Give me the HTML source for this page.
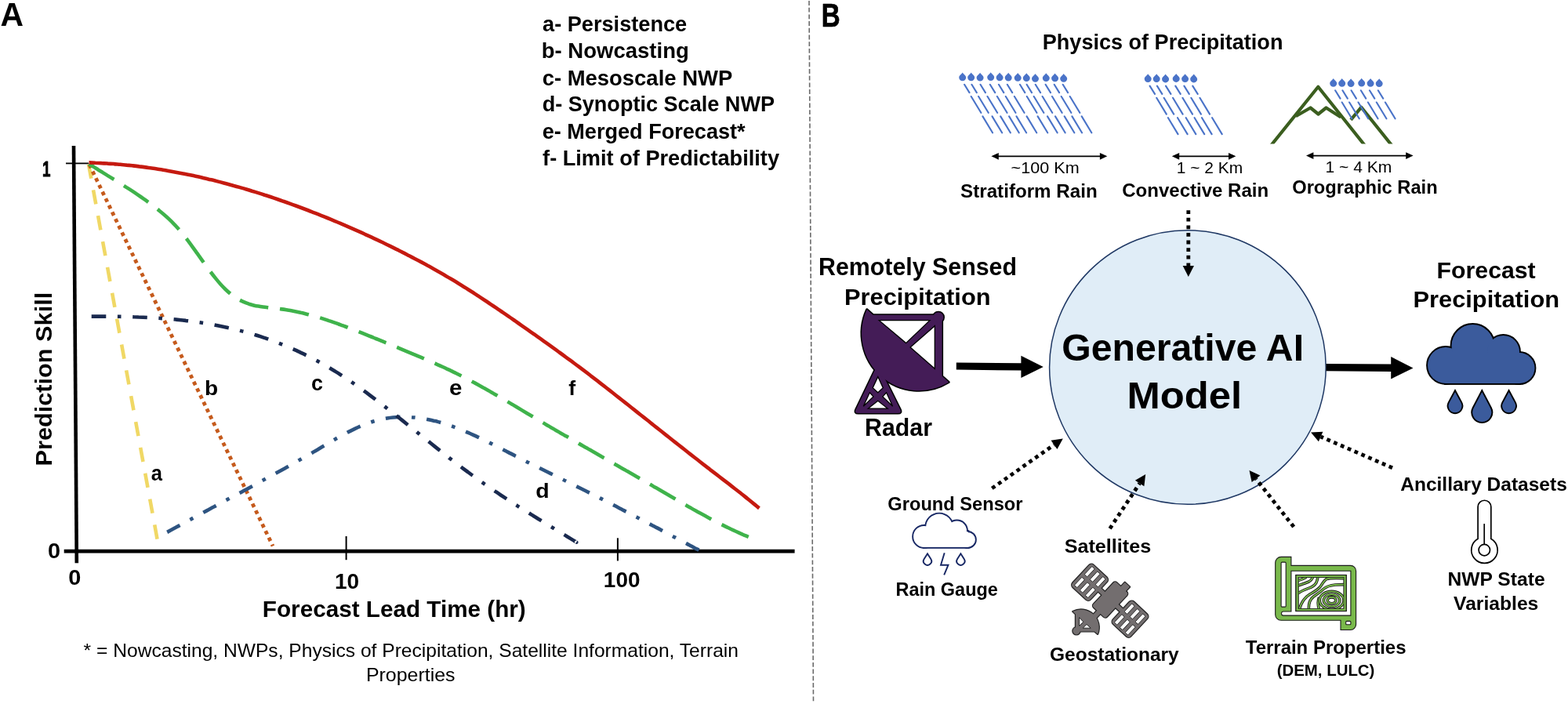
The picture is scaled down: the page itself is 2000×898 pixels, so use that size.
<!DOCTYPE html>
<html><head><meta charset="utf-8"><style>
html,body{margin:0;padding:0;background:#fff;overflow:hidden;}
svg{display:block;}
text{font-family:"Liberation Sans",Arial,sans-serif;}
</style></head><body>
<svg width="2000" height="898" viewBox="0 0 2000 898">
<rect width="2000" height="898" fill="#fff"/>
<ellipse cx="1514.9" cy="468.5" rx="176.3" ry="174.8" fill="#e0edf7" stroke="#1f3864" stroke-width="1.5"/>
<line x1="1032" y1="1" x2="1037.5" y2="896" stroke="#6a6a6a" stroke-width="1.6" stroke-dasharray="5.9 2.8"/>
<line x1="94" y1="186" x2="97.8" y2="718.2" stroke="#000" stroke-width="4.6"/>
<line x1="81.7" y1="703.2" x2="1013.6" y2="703.2" stroke="#000" stroke-width="4.8"/>
<line x1="84" y1="208.4" x2="113" y2="208.4" stroke="#000" stroke-width="1.8"/>
<line x1="441.6" y1="684" x2="441.6" y2="714.2" stroke="#000" stroke-width="2"/>
<line x1="787.9" y1="686.3" x2="787.9" y2="715.4" stroke="#000" stroke-width="2"/>
<line x1="113" y1="209.5" x2="200.6" y2="688" stroke="#f0d865" stroke-width="4.6" stroke-dasharray="18.4 15"/>
<line x1="114" y1="210" x2="348" y2="696.5" stroke="#c55a1c" stroke-width="4.8" stroke-dasharray="4.8 4.8"/>
<path d="M213.2,678.9 C214.2,678.4 217.2,676.7 219.2,675.6 C221.2,674.5 223.2,673.4 225.2,672.3 C227.2,671.2 229.2,670.1 231.2,669.0 C233.2,667.9 235.2,666.8 237.2,665.7 C239.2,664.6 241.2,663.5 243.2,662.5 C245.2,661.4 247.2,660.3 249.2,659.2 C251.2,658.1 253.2,657.0 255.2,656.0 C257.2,654.9 259.2,653.8 261.2,652.7 C263.2,651.6 265.2,650.6 267.2,649.5 C269.2,648.4 271.2,647.3 273.2,646.3 C275.2,645.2 277.2,644.1 279.2,643.0 C281.2,642.0 283.2,640.9 285.2,639.8 C287.2,638.7 289.2,637.7 291.2,636.6 C293.2,635.5 295.2,634.4 297.2,633.4 C299.2,632.3 301.2,631.2 303.2,630.1 C305.2,629.1 307.2,628.0 309.2,626.9 C311.2,625.8 313.2,624.8 315.2,623.7 C317.2,622.6 319.2,621.5 321.2,620.4 C323.2,619.3 325.2,618.3 327.2,617.2 C329.2,616.1 331.2,615.0 333.2,613.9 C335.2,612.8 337.2,611.7 339.2,610.6 C341.2,609.5 343.2,608.4 345.2,607.3 C347.2,606.2 349.2,605.1 351.2,604.0 C353.2,602.9 355.2,601.8 357.2,600.7 C359.2,599.6 361.2,598.5 363.2,597.4 C365.2,596.3 367.2,595.1 369.2,594.0 C371.2,592.9 373.2,591.8 375.2,590.6 C377.2,589.5 379.2,588.4 381.2,587.2 C383.2,586.1 385.2,584.9 387.2,583.8 C389.2,582.7 391.2,581.5 393.2,580.3 C395.2,579.2 397.2,578.0 399.2,576.9 C401.2,575.7 403.2,574.5 405.2,573.4 C407.2,572.2 409.2,571.0 411.2,569.8 C413.2,568.6 415.2,567.5 417.2,566.3 C419.2,565.1 421.2,563.9 423.2,562.8 C425.2,561.6 427.2,560.5 429.2,559.3 C431.2,558.2 433.2,557.1 435.2,556.0 C437.2,554.8 439.2,553.8 441.2,552.7 C443.2,551.6 445.2,550.6 447.2,549.6 C449.2,548.6 451.2,547.6 453.2,546.6 C455.2,545.7 457.2,544.8 459.2,543.9 C461.2,543.0 463.2,542.2 465.2,541.4 C467.2,540.6 469.2,539.9 471.2,539.2 C473.2,538.5 475.2,537.8 477.2,537.2 C479.2,536.6 481.2,536.1 483.2,535.6 C485.2,535.1 487.2,534.7 489.2,534.3 C491.2,533.9 493.2,533.5 495.2,533.2 C497.2,532.9 499.2,532.7 501.2,532.5 C503.2,532.3 505.2,532.1 507.2,532.0 C509.2,531.9 511.2,531.9 513.2,531.8 C515.2,531.8 517.2,531.8 519.2,531.9 C521.2,531.9 523.2,532.0 525.2,532.2 C527.2,532.3 529.2,532.5 531.2,532.7 C533.2,533.0 535.2,533.2 537.2,533.5 C539.2,533.8 541.2,534.1 543.2,534.5 C545.2,534.9 547.2,535.3 549.2,535.7 C551.2,536.2 553.2,536.6 555.2,537.1 C557.2,537.6 559.2,538.2 561.2,538.7 C563.2,539.3 565.2,539.9 567.2,540.5 C569.2,541.2 571.2,541.8 573.2,542.5 C575.2,543.2 577.2,543.9 579.2,544.6 C581.2,545.4 583.2,546.1 585.2,546.9 C587.2,547.7 589.2,548.5 591.2,549.4 C593.2,550.2 595.2,551.0 597.2,551.9 C599.2,552.8 601.2,553.7 603.2,554.6 C605.2,555.5 607.2,556.4 609.2,557.4 C611.2,558.3 613.2,559.2 615.2,560.2 C617.2,561.2 619.2,562.1 621.2,563.1 C623.2,564.1 625.2,565.1 627.2,566.1 C629.2,567.1 631.2,568.1 633.2,569.2 C635.2,570.2 637.2,571.2 639.2,572.2 C641.2,573.2 643.2,574.3 645.2,575.3 C647.2,576.3 649.2,577.4 651.2,578.4 C653.2,579.4 655.2,580.4 657.2,581.5 C659.2,582.5 661.2,583.5 663.2,584.5 C665.2,585.5 667.2,586.5 669.2,587.5 C671.2,588.6 673.2,589.6 675.2,590.6 C677.2,591.6 679.2,592.6 681.2,593.6 C683.2,594.6 685.2,595.5 687.2,596.5 C689.2,597.5 691.2,598.5 693.2,599.5 C695.2,600.5 697.2,601.5 699.2,602.5 C701.2,603.5 703.2,604.5 705.2,605.4 C707.2,606.4 709.2,607.4 711.2,608.4 C713.2,609.4 715.2,610.4 717.2,611.4 C719.2,612.3 721.2,613.3 723.2,614.3 C725.2,615.3 727.2,616.3 729.2,617.3 C731.2,618.3 733.2,619.3 735.2,620.3 C737.2,621.3 739.2,622.3 741.2,623.3 C743.2,624.3 745.2,625.3 747.2,626.3 C749.2,627.3 751.2,628.3 753.2,629.3 C755.2,630.3 757.2,631.3 759.2,632.4 C761.2,633.4 763.2,634.4 765.2,635.4 C767.2,636.4 769.2,637.4 771.2,638.5 C773.2,639.5 775.2,640.5 777.2,641.5 C779.2,642.6 781.2,643.6 783.2,644.6 C785.2,645.7 787.2,646.7 789.2,647.7 C791.2,648.8 793.2,649.8 795.2,650.9 C797.2,651.9 799.2,652.9 801.2,654.0 C803.2,655.0 805.2,656.1 807.2,657.1 C809.2,658.2 811.2,659.2 813.2,660.2 C815.2,661.3 817.2,662.4 819.2,663.4 C821.2,664.4 823.2,665.5 825.2,666.5 C827.2,667.6 829.2,668.7 831.2,669.7 C833.2,670.8 835.2,671.8 837.2,672.9 C839.2,673.9 841.2,675.0 843.2,676.1 C845.2,677.1 847.2,678.2 849.2,679.2 C851.2,680.3 853.2,681.4 855.2,682.4 C857.2,683.5 859.2,684.6 861.2,685.6 C863.2,686.7 865.2,687.7 867.2,688.8 C869.2,689.9 871.2,690.9 873.2,692.0 C875.2,693.1 877.2,694.1 879.2,695.2 C881.2,696.3 883.2,697.3 885.2,698.4 C887.2,699.5 889.9,700.9 891.2,701.6 C892.5,702.3 892.5,702.3 892.8,702.5" fill="none" stroke="#2e5481" stroke-width="4.6" stroke-dasharray="18.6 14.6 4.6 14.7"/>
<path d="M116.7,403.6 C117.7,403.6 120.7,403.6 122.7,403.6 C124.7,403.6 126.7,403.6 128.7,403.6 C130.7,403.6 132.7,403.6 134.7,403.6 C136.7,403.6 138.7,403.7 140.7,403.7 C142.7,403.7 144.7,403.7 146.7,403.7 C148.7,403.8 150.7,403.8 152.7,403.8 C154.7,403.9 156.7,403.9 158.7,403.9 C160.7,404.0 162.7,404.0 164.7,404.1 C166.7,404.1 168.7,404.2 170.7,404.3 C172.7,404.3 174.7,404.4 176.7,404.5 C178.7,404.5 180.7,404.6 182.7,404.7 C184.7,404.8 186.7,404.9 188.7,405.0 C190.7,405.1 192.7,405.2 194.7,405.3 C196.7,405.4 198.7,405.6 200.7,405.7 C202.7,405.8 204.7,405.9 206.7,406.1 C208.7,406.2 210.7,406.4 212.7,406.6 C214.7,406.7 216.7,406.9 218.7,407.1 C220.7,407.2 222.7,407.4 224.7,407.6 C226.7,407.8 228.7,408.0 230.7,408.2 C232.7,408.5 234.7,408.7 236.7,408.9 C238.7,409.2 240.7,409.4 242.7,409.7 C244.7,409.9 246.7,410.2 248.7,410.5 C250.7,410.7 252.7,411.0 254.7,411.3 C256.7,411.6 258.7,411.9 260.7,412.2 C262.7,412.6 264.7,412.9 266.7,413.2 C268.7,413.6 270.7,413.9 272.7,414.3 C274.7,414.7 276.7,415.1 278.7,415.5 C280.7,415.9 282.7,416.3 284.7,416.7 C286.7,417.1 288.7,417.5 290.7,418.0 C292.7,418.4 294.7,418.9 296.7,419.4 C298.7,419.8 300.7,420.3 302.7,420.8 C304.7,421.3 306.7,421.8 308.7,422.4 C310.7,422.9 312.7,423.4 314.7,424.0 C316.7,424.5 318.7,425.1 320.7,425.7 C322.7,426.3 324.7,426.9 326.7,427.5 C328.7,428.2 330.7,428.8 332.7,429.4 C334.7,430.1 336.7,430.8 338.7,431.4 C340.7,432.1 342.7,432.8 344.7,433.6 C346.7,434.3 348.7,435.0 350.7,435.8 C352.7,436.5 354.7,437.3 356.7,438.1 C358.7,438.9 360.7,439.7 362.7,440.5 C364.7,441.3 366.7,442.2 368.7,443.0 C370.7,443.9 372.7,444.7 374.7,445.6 C376.7,446.5 378.7,447.4 380.7,448.4 C382.7,449.3 384.7,450.3 386.7,451.2 C388.7,452.2 390.7,453.2 392.7,454.2 C394.7,455.2 396.7,456.2 398.7,457.2 C400.7,458.3 402.7,459.4 404.7,460.4 C406.7,461.5 408.7,462.6 410.7,463.8 C412.7,464.9 414.7,466.0 416.7,467.2 C418.7,468.3 420.7,469.5 422.7,470.7 C424.7,471.9 426.7,473.1 428.7,474.4 C430.7,475.6 432.7,476.9 434.7,478.2 C436.7,479.5 438.7,480.8 440.7,482.1 C442.7,483.4 444.7,484.8 446.7,486.1 C448.7,487.5 450.7,488.9 452.7,490.3 C454.7,491.7 456.7,493.1 458.7,494.5 C460.7,496.0 462.7,497.4 464.7,498.9 C466.7,500.3 468.7,501.8 470.7,503.3 C472.7,504.8 474.7,506.3 476.7,507.8 C478.7,509.3 480.7,510.8 482.7,512.4 C484.7,513.9 486.7,515.4 488.7,517.0 C490.7,518.5 492.7,520.1 494.7,521.7 C496.7,523.2 498.7,524.8 500.7,526.4 C502.7,528.0 504.7,529.5 506.7,531.1 C508.7,532.7 510.7,534.3 512.7,535.9 C514.7,537.5 516.7,539.1 518.7,540.7 C520.7,542.3 522.7,543.9 524.7,545.5 C526.7,547.1 528.7,548.7 530.7,550.3 C532.7,551.9 534.7,553.6 536.7,555.2 C538.7,556.8 540.7,558.4 542.7,560.0 C544.7,561.6 546.7,563.2 548.7,564.8 C550.7,566.4 552.7,568.0 554.7,569.6 C556.7,571.2 558.7,572.8 560.7,574.3 C562.7,575.9 564.7,577.5 566.7,579.1 C568.7,580.6 570.7,582.2 572.7,583.8 C574.7,585.3 576.7,586.9 578.7,588.4 C580.7,590.0 582.7,591.5 584.7,593.0 C586.7,594.5 588.7,596.1 590.7,597.6 C592.7,599.1 594.7,600.6 596.7,602.0 C598.7,603.5 600.7,605.0 602.7,606.5 C604.7,607.9 606.7,609.4 608.7,610.8 C610.7,612.2 612.7,613.7 614.7,615.1 C616.7,616.5 618.7,617.9 620.7,619.2 C622.7,620.6 624.7,622.0 626.7,623.4 C628.7,624.7 630.7,626.1 632.7,627.4 C634.7,628.8 636.7,630.1 638.7,631.5 C640.7,632.8 642.7,634.1 644.7,635.4 C646.7,636.7 648.7,638.0 650.7,639.3 C652.7,640.6 654.7,641.9 656.7,643.2 C658.7,644.5 660.7,645.7 662.7,647.0 C664.7,648.3 666.7,649.5 668.7,650.8 C670.7,652.0 672.7,653.3 674.7,654.5 C676.7,655.8 678.7,657.0 680.7,658.3 C682.7,659.5 684.7,660.7 686.7,662.0 C688.7,663.2 690.7,664.4 692.7,665.7 C694.7,666.9 696.7,668.1 698.7,669.3 C700.7,670.6 702.7,671.8 704.7,673.0 C706.7,674.2 708.7,675.4 710.7,676.7 C712.7,677.9 714.7,679.1 716.7,680.3 C718.7,681.5 720.7,682.8 722.7,684.0 C724.7,685.2 726.7,686.4 728.7,687.6 C730.7,688.9 733.7,690.7 734.7,691.3 C735.8,692.0 735.0,691.5 735.0,691.5" fill="none" stroke="#1a2a4f" stroke-width="4.6" stroke-dasharray="18.6 14.6 4.6 14.7"/>
<path d="M113.5,209.0 C114.5,209.7 117.5,211.6 119.5,212.9 C121.5,214.2 123.5,215.4 125.5,216.7 C127.5,217.9 129.5,219.2 131.5,220.4 C133.5,221.7 135.5,222.9 137.5,224.1 C139.5,225.4 141.5,226.6 143.5,227.8 C145.5,229.0 147.5,230.3 149.5,231.5 C151.5,232.8 153.5,234.0 155.5,235.3 C157.5,236.5 159.5,237.8 161.5,239.1 C163.5,240.3 165.5,241.6 167.5,242.9 C169.5,244.2 171.5,245.5 173.5,246.9 C175.5,248.2 177.5,249.6 179.5,251.0 C181.5,252.4 183.5,253.8 185.5,255.2 C187.5,256.6 189.5,258.1 191.5,259.6 C193.5,261.1 195.5,262.6 197.5,264.2 C199.5,265.7 201.5,267.3 203.5,269.0 C205.5,270.6 207.5,272.3 209.5,274.0 C211.5,275.7 213.5,277.5 215.5,279.4 C217.5,281.3 219.5,283.2 221.5,285.3 C223.5,287.3 225.5,289.5 227.5,291.7 C229.5,294.0 231.5,296.4 233.5,298.9 C235.5,301.4 237.5,304.0 239.5,306.6 C241.5,309.3 243.5,312.0 245.5,314.8 C247.5,317.5 249.5,320.4 251.5,323.2 C253.5,326.0 255.5,328.8 257.5,331.6 C259.5,334.4 261.5,337.3 263.5,340.0 C265.5,342.7 267.5,345.4 269.5,348.0 C271.5,350.7 273.5,353.2 275.5,355.6 C277.5,358.1 279.5,360.5 281.5,362.7 C283.5,364.9 285.5,367.0 287.5,369.0 C289.5,370.9 291.5,372.8 293.5,374.4 C295.5,376.1 297.5,377.6 299.5,378.9 C301.5,380.3 303.5,381.5 305.5,382.6 C307.5,383.6 309.5,384.6 311.5,385.4 C313.5,386.3 315.5,387.0 317.5,387.7 C319.5,388.3 321.5,388.9 323.5,389.4 C325.5,389.9 327.5,390.3 329.5,390.6 C331.5,391.0 333.5,391.3 335.5,391.6 C337.5,391.9 339.5,392.1 341.5,392.3 C343.5,392.6 345.5,392.8 347.5,393.0 C349.5,393.2 351.5,393.4 353.5,393.6 C355.5,393.8 357.5,394.1 359.5,394.4 C361.5,394.6 363.5,394.9 365.5,395.2 C367.5,395.6 369.5,395.9 371.5,396.3 C373.5,396.7 375.5,397.1 377.5,397.5 C379.5,397.9 381.5,398.3 383.5,398.8 C385.5,399.2 387.5,399.7 389.5,400.2 C391.5,400.7 393.5,401.2 395.5,401.8 C397.5,402.3 399.5,402.9 401.5,403.4 C403.5,404.0 405.5,404.6 407.5,405.2 C409.5,405.8 411.5,406.5 413.5,407.1 C415.5,407.7 417.5,408.4 419.5,409.1 C421.5,409.7 423.5,410.4 425.5,411.1 C427.5,411.8 429.5,412.5 431.5,413.2 C433.5,413.9 435.5,414.7 437.5,415.4 C439.5,416.1 441.5,416.9 443.5,417.6 C445.5,418.4 447.5,419.2 449.5,419.9 C451.5,420.7 453.5,421.5 455.5,422.3 C457.5,423.1 459.5,423.9 461.5,424.7 C463.5,425.5 465.5,426.3 467.5,427.1 C469.5,427.9 471.5,428.7 473.5,429.5 C475.5,430.3 477.5,431.2 479.5,432.0 C481.5,432.8 483.5,433.6 485.5,434.4 C487.5,435.3 489.5,436.1 491.5,436.9 C493.5,437.7 495.5,438.6 497.5,439.4 C499.5,440.2 501.5,441.0 503.5,441.8 C505.5,442.7 507.5,443.5 509.5,444.3 C511.5,445.1 513.5,446.0 515.5,446.8 C517.5,447.6 519.5,448.4 521.5,449.3 C523.5,450.1 525.5,450.9 527.5,451.8 C529.5,452.6 531.5,453.5 533.5,454.3 C535.5,455.1 537.5,456.0 539.5,456.9 C541.5,457.7 543.5,458.6 545.5,459.4 C547.5,460.3 549.5,461.2 551.5,462.1 C553.5,463.0 555.5,463.9 557.5,464.8 C559.5,465.6 561.5,466.6 563.5,467.5 C565.5,468.4 567.5,469.3 569.5,470.3 C571.5,471.2 573.5,472.2 575.5,473.1 C577.5,474.1 579.5,475.0 581.5,476.0 C583.5,477.0 585.5,478.0 587.5,479.0 C589.5,480.0 591.5,481.1 593.5,482.1 C595.5,483.1 597.5,484.2 599.5,485.2 C601.5,486.3 603.5,487.4 605.5,488.4 C607.5,489.5 609.5,490.6 611.5,491.7 C613.5,492.8 615.5,493.9 617.5,495.1 C619.5,496.2 621.5,497.3 623.5,498.4 C625.5,499.6 627.5,500.7 629.5,501.9 C631.5,503.0 633.5,504.2 635.5,505.4 C637.5,506.5 639.5,507.7 641.5,508.9 C643.5,510.0 645.5,511.2 647.5,512.4 C649.5,513.6 651.5,514.8 653.5,515.9 C655.5,517.1 657.5,518.3 659.5,519.5 C661.5,520.7 663.5,521.9 665.5,523.1 C667.5,524.3 669.5,525.5 671.5,526.7 C673.5,527.9 675.5,529.0 677.5,530.2 C679.5,531.4 681.5,532.6 683.5,533.8 C685.5,535.0 687.5,536.2 689.5,537.3 C691.5,538.5 693.5,539.7 695.5,540.9 C697.5,542.0 699.5,543.2 701.5,544.4 C703.5,545.5 705.5,546.7 707.5,547.9 C709.5,549.0 711.5,550.2 713.5,551.4 C715.5,552.5 717.5,553.7 719.5,554.9 C721.5,556.0 723.5,557.2 725.5,558.3 C727.5,559.5 729.5,560.6 731.5,561.8 C733.5,562.9 735.5,564.1 737.5,565.2 C739.5,566.4 741.5,567.6 743.5,568.7 C745.5,569.9 747.5,571.0 749.5,572.1 C751.5,573.3 753.5,574.4 755.5,575.6 C757.5,576.7 759.5,577.9 761.5,579.0 C763.5,580.2 765.5,581.3 767.5,582.5 C769.5,583.6 771.5,584.7 773.5,585.9 C775.5,587.0 777.5,588.2 779.5,589.3 C781.5,590.5 783.5,591.6 785.5,592.8 C787.5,593.9 789.5,595.0 791.5,596.2 C793.5,597.3 795.5,598.5 797.5,599.6 C799.5,600.8 801.5,601.9 803.5,603.1 C805.5,604.2 807.5,605.4 809.5,606.5 C811.5,607.7 813.5,608.8 815.5,610.0 C817.5,611.1 819.5,612.3 821.5,613.4 C823.5,614.6 825.5,615.7 827.5,616.9 C829.5,618.0 831.5,619.2 833.5,620.4 C835.5,621.5 837.5,622.7 839.5,623.8 C841.5,625.0 843.5,626.2 845.5,627.3 C847.5,628.5 849.5,629.7 851.5,630.8 C853.5,632.0 855.5,633.2 857.5,634.3 C859.5,635.5 861.5,636.6 863.5,637.8 C865.5,639.0 867.5,640.1 869.5,641.3 C871.5,642.4 873.5,643.6 875.5,644.7 C877.5,645.9 879.5,647.0 881.5,648.1 C883.5,649.3 885.5,650.4 887.5,651.5 C889.5,652.6 891.5,653.7 893.5,654.8 C895.5,655.9 897.5,657.0 899.5,658.1 C901.5,659.2 903.5,660.3 905.5,661.4 C907.5,662.4 909.5,663.5 911.5,664.5 C913.5,665.6 915.5,666.6 917.5,667.6 C919.5,668.6 921.5,669.6 923.5,670.6 C925.5,671.6 927.5,672.6 929.5,673.5 C931.5,674.5 933.5,675.5 935.5,676.4 C937.5,677.3 939.5,678.2 941.5,679.1 C943.5,680.0 945.5,680.9 947.5,681.8 C949.5,682.6 951.8,683.6 953.5,684.3 C955.2,685.0 956.8,685.7 957.5,685.9" fill="none" stroke="#3fb34b" stroke-width="4.6" stroke-dasharray="37.6 14.9"/>
<path d="M113.5,207.4 C114.8,207.4 118.8,207.5 121.5,207.7 C124.2,207.8 126.8,207.9 129.5,208.1 C132.2,208.2 134.8,208.4 137.5,208.6 C140.2,208.7 142.8,208.9 145.5,209.1 C148.2,209.3 150.8,209.6 153.5,209.8 C156.2,210.1 158.8,210.3 161.5,210.6 C164.2,210.8 166.8,211.1 169.5,211.4 C172.2,211.7 174.8,212.0 177.5,212.4 C180.2,212.7 182.8,213.0 185.5,213.4 C188.2,213.8 190.8,214.1 193.5,214.5 C196.2,214.9 198.8,215.3 201.5,215.7 C204.2,216.1 206.8,216.6 209.5,217.0 C212.2,217.5 214.8,217.9 217.5,218.4 C220.2,218.9 222.8,219.4 225.5,219.9 C228.2,220.4 230.8,220.9 233.5,221.4 C236.2,221.9 238.8,222.5 241.5,223.0 C244.2,223.6 246.8,224.2 249.5,224.7 C252.2,225.3 254.8,225.9 257.5,226.5 C260.2,227.1 262.8,227.8 265.5,228.4 C268.2,229.0 270.8,229.7 273.5,230.3 C276.2,231.0 278.8,231.7 281.5,232.4 C284.2,233.1 286.8,233.8 289.5,234.5 C292.2,235.2 294.8,235.9 297.5,236.7 C300.2,237.4 302.8,238.1 305.5,238.9 C308.2,239.7 310.8,240.5 313.5,241.2 C316.2,242.0 318.8,242.8 321.5,243.7 C324.2,244.5 326.8,245.3 329.5,246.1 C332.2,247.0 334.8,247.8 337.5,248.7 C340.2,249.5 342.8,250.4 345.5,251.3 C348.2,252.2 350.8,253.1 353.5,254.0 C356.2,254.9 358.8,255.8 361.5,256.8 C364.2,257.7 366.8,258.6 369.5,259.6 C372.2,260.6 374.8,261.5 377.5,262.5 C380.2,263.5 382.8,264.5 385.5,265.5 C388.2,266.5 390.8,267.5 393.5,268.5 C396.2,269.5 398.8,270.6 401.5,271.6 C404.2,272.7 406.8,273.7 409.5,274.8 C412.2,275.9 414.8,276.9 417.5,278.0 C420.2,279.1 422.8,280.2 425.5,281.3 C428.2,282.4 430.8,283.6 433.5,284.7 C436.2,285.8 438.8,287.0 441.5,288.1 C444.2,289.3 446.8,290.4 449.5,291.6 C452.2,292.8 454.8,293.9 457.5,295.1 C460.2,296.3 462.8,297.5 465.5,298.8 C468.2,300.0 470.8,301.2 473.5,302.4 C476.2,303.7 478.8,304.9 481.5,306.2 C484.2,307.4 486.8,308.7 489.5,310.0 C492.2,311.3 494.8,312.6 497.5,313.9 C500.2,315.2 502.8,316.5 505.5,317.9 C508.2,319.2 510.8,320.5 513.5,321.9 C516.2,323.2 518.8,324.6 521.5,326.0 C524.2,327.4 526.8,328.8 529.5,330.2 C532.2,331.6 534.8,333.0 537.5,334.4 C540.2,335.9 542.8,337.3 545.5,338.8 C548.2,340.2 550.8,341.7 553.5,343.2 C556.2,344.7 558.8,346.2 561.5,347.7 C564.2,349.3 566.8,350.8 569.5,352.4 C572.2,353.9 574.8,355.5 577.5,357.1 C580.2,358.7 582.8,360.3 585.5,362.0 C588.2,363.6 590.8,365.3 593.5,366.9 C596.2,368.6 598.8,370.3 601.5,372.0 C604.2,373.7 606.8,375.5 609.5,377.2 C612.2,379.0 614.8,380.7 617.5,382.5 C620.2,384.2 622.8,386.0 625.5,387.8 C628.2,389.6 630.8,391.4 633.5,393.2 C636.2,395.0 638.8,396.9 641.5,398.7 C644.2,400.5 646.8,402.3 649.5,404.2 C652.2,406.0 654.8,407.9 657.5,409.7 C660.2,411.6 662.8,413.4 665.5,415.3 C668.2,417.2 670.8,419.0 673.5,420.9 C676.2,422.8 678.8,424.7 681.5,426.5 C684.2,428.4 686.8,430.3 689.5,432.2 C692.2,434.1 694.8,436.0 697.5,437.9 C700.2,439.8 702.8,441.7 705.5,443.7 C708.2,445.6 710.8,447.5 713.5,449.5 C716.2,451.4 718.8,453.3 721.5,455.3 C724.2,457.2 726.8,459.2 729.5,461.2 C732.2,463.2 734.8,465.2 737.5,467.1 C740.2,469.1 742.8,471.2 745.5,473.2 C748.2,475.2 750.8,477.2 753.5,479.3 C756.2,481.3 758.8,483.4 761.5,485.4 C764.2,487.5 766.8,489.6 769.5,491.6 C772.2,493.7 774.8,495.8 777.5,497.9 C780.2,500.0 782.8,502.1 785.5,504.2 C788.2,506.3 790.8,508.4 793.5,510.5 C796.2,512.6 798.8,514.7 801.5,516.8 C804.2,518.9 806.8,521.0 809.5,523.1 C812.2,525.3 814.8,527.4 817.5,529.5 C820.2,531.6 822.8,533.7 825.5,535.8 C828.2,537.9 830.8,540.1 833.5,542.2 C836.2,544.3 838.8,546.4 841.5,548.5 C844.2,550.6 846.8,552.7 849.5,554.9 C852.2,557.0 854.8,559.1 857.5,561.2 C860.2,563.3 862.8,565.4 865.5,567.5 C868.2,569.6 870.8,571.7 873.5,573.8 C876.2,575.9 878.8,578.0 881.5,580.1 C884.2,582.2 886.8,584.2 889.5,586.3 C892.2,588.4 894.8,590.5 897.5,592.6 C900.2,594.6 902.8,596.7 905.5,598.8 C908.2,600.8 910.8,602.9 913.5,604.9 C916.2,607.0 918.8,609.0 921.5,611.1 C924.2,613.1 926.8,615.2 929.5,617.2 C932.2,619.3 934.8,621.4 937.5,623.5 C940.2,625.5 942.8,627.6 945.5,629.7 C948.2,631.8 950.8,634.0 953.5,636.1 C956.2,638.3 959.0,640.6 961.5,642.6 C964.0,644.6 967.2,647.4 968.4,648.3" fill="none" stroke="#c51a10" stroke-width="4.6"/>
<path d="M1227.7,92.5 C1228.83,94.39 1232.2,96.33 1232.2,98.8 A4.5,4.5 0 0 1 1223.2,98.8 C1223.2,96.33 1226.58,94.39 1227.7,92.5 Z" fill="#4a73c8"/>
<path d="M1238.7,92.5 C1239.83,94.39 1243.2,96.33 1243.2,98.8 A4.5,4.5 0 0 1 1234.2,98.8 C1234.2,96.33 1237.58,94.39 1238.7,92.5 Z" fill="#4a73c8"/>
<path d="M1250.1,92.8 C1251.22,94.69 1254.6,96.62 1254.6,99.1 A4.5,4.5 0 0 1 1245.6,99.1 C1245.6,96.62 1248.97,94.69 1250.1,92.8 Z" fill="#4a73c8"/>
<path d="M1263.7,92.3 C1264.83,94.19 1268.2,96.12 1268.2,98.6 A4.5,4.5 0 0 1 1259.2,98.6 C1259.2,96.12 1262.58,94.19 1263.7,92.3 Z" fill="#4a73c8"/>
<path d="M1275.1,92.5 C1276.22,94.39 1279.6,96.33 1279.6,98.8 A4.5,4.5 0 0 1 1270.6,98.8 C1270.6,96.33 1273.97,94.39 1275.1,92.5 Z" fill="#4a73c8"/>
<path d="M1286.2,92.8 C1287.33,94.69 1290.7,96.62 1290.7,99.1 A4.5,4.5 0 0 1 1281.7,99.1 C1281.7,96.62 1285.08,94.69 1286.2,92.8 Z" fill="#4a73c8"/>
<path d="M1298.2,93 C1299.33,94.89 1302.7,96.83 1302.7,99.3 A4.5,4.5 0 0 1 1293.7,99.3 C1293.7,96.83 1297.08,94.89 1298.2,93 Z" fill="#4a73c8"/>
<path d="M1309.3,93.2 C1310.42,95.09 1313.8,97.03 1313.8,99.5 A4.5,4.5 0 0 1 1304.8,99.5 C1304.8,97.03 1308.17,95.09 1309.3,93.2 Z" fill="#4a73c8"/>
<path d="M1320.5,94 C1321.62,95.89 1325,97.83 1325,100.3 A4.5,4.5 0 0 1 1316,100.3 C1316,97.83 1319.38,95.89 1320.5,94 Z" fill="#4a73c8"/>
<path d="M1334.3,93.3 C1335.42,95.19 1338.8,97.12 1338.8,99.6 A4.5,4.5 0 0 1 1329.8,99.6 C1329.8,97.12 1333.17,95.19 1334.3,93.3 Z" fill="#4a73c8"/>
<path d="M1345.6,93.5 C1346.72,95.39 1350.1,97.33 1350.1,99.8 A4.5,4.5 0 0 1 1341.1,99.8 C1341.1,97.33 1344.47,95.39 1345.6,93.5 Z" fill="#4a73c8"/>
<path d="M1356.7,94 C1357.83,95.89 1361.2,97.83 1361.2,100.3 A4.5,4.5 0 0 1 1352.2,100.3 C1352.2,97.83 1355.58,95.89 1356.7,94 Z" fill="#4a73c8"/>
<path d="M1230.1,107.8 L1236.5,118.1 M1239.4,107.8 L1245.8,118.1 M1250.5,107.8 L1256.9,118.1 M1262.8,107.8 L1269.2,118.1 M1273.9,107.8 L1280.3,118.1 M1284.8,107.8 L1291.2,118.1 M1300.9,107.8 L1307.3,118.1 M1309.6,107.8 L1316,118.1 M1320.7,107.8 L1327.1,118.1 M1333.6,107.8 L1340,118.1 M1344.7,107.8 L1351.1,118.1 M1355.7,107.8 L1362.1,118.1 M1238.7,123 L1251.3,143.8 M1248.1,123 L1260.7,143.8 M1259.5,123 L1272.1,143.8 M1271.9,123 L1284.5,143.8 M1282.8,123 L1295.4,143.8 M1293.9,123 L1306.5,143.8 M1309.8,123 L1322.4,143.8 M1318.7,123 L1331.3,143.8 M1329.6,123 L1342.2,143.8 M1342,123 L1354.6,143.8 M1353.7,123 L1366.3,143.8 M1364.7,123 L1377.3,143.8 M1253.4,148.4 L1266,169.3 M1265.5,148.4 L1278.1,169.3 M1276.2,148.4 L1288.8,169.3 M1287.1,148.4 L1299.7,169.3 M1296.5,148.4 L1309.1,169.3 M1309.6,148.4 L1322.2,169.3 M1323.6,148.4 L1336.2,169.3 M1336,148.4 L1348.6,169.3 M1346,148.4 L1358.6,169.3 M1357.7,148.4 L1370.3,169.3 M1367.4,148.4 L1380,169.3 M1379.7,148.4 L1392.3,169.3" stroke="#4a73c8" stroke-width="2.1" stroke-linecap="round" fill="none"/>
<path d="M1464.2,94.3 C1465.33,96.19 1468.7,98.12 1468.7,100.6 A4.5,4.5 0 0 1 1459.7,100.6 C1459.7,98.12 1463.08,96.19 1464.2,94.3 Z" fill="#4a73c8"/>
<path d="M1475.2,94.3 C1476.33,96.19 1479.7,98.12 1479.7,100.6 A4.5,4.5 0 0 1 1470.7,100.6 C1470.7,98.12 1474.08,96.19 1475.2,94.3 Z" fill="#4a73c8"/>
<path d="M1486.6,94.6 C1487.72,96.49 1491.1,98.42 1491.1,100.9 A4.5,4.5 0 0 1 1482.1,100.9 C1482.1,98.42 1485.47,96.49 1486.6,94.6 Z" fill="#4a73c8"/>
<path d="M1500.2,94.1 C1501.33,95.99 1504.7,97.92 1504.7,100.4 A4.5,4.5 0 0 1 1495.7,100.4 C1495.7,97.92 1499.08,95.99 1500.2,94.1 Z" fill="#4a73c8"/>
<path d="M1511.6,94.3 C1512.72,96.19 1516.1,98.12 1516.1,100.6 A4.5,4.5 0 0 1 1507.1,100.6 C1507.1,98.12 1510.47,96.19 1511.6,94.3 Z" fill="#4a73c8"/>
<path d="M1522.7,94.6 C1523.83,96.49 1527.2,98.42 1527.2,100.9 A4.5,4.5 0 0 1 1518.2,100.9 C1518.2,98.42 1521.58,96.49 1522.7,94.6 Z" fill="#4a73c8"/>
<path d="M1466.6,109.6 L1473,119.9 M1475.9,109.6 L1482.3,119.9 M1487,109.6 L1493.4,119.9 M1499.3,109.6 L1505.7,119.9 M1510.4,109.6 L1516.8,119.9 M1521.3,109.6 L1527.7,119.9 M1475.2,124.8 L1487.8,145.6 M1484.6,124.8 L1497.2,145.6 M1496,124.8 L1508.6,145.6 M1508.4,124.8 L1521,145.6 M1519.3,124.8 L1531.9,145.6 M1530.4,124.8 L1543,145.6 M1489.9,150.2 L1502.5,171.1 M1502,150.2 L1514.6,171.1 M1512.7,150.2 L1525.3,171.1 M1523.6,150.2 L1536.2,171.1 M1533,150.2 L1545.6,171.1 M1546.1,150.2 L1558.7,171.1" stroke="#4a73c8" stroke-width="2.1" stroke-linecap="round" fill="none"/>
<defs><clipPath id="mclip"><rect x="1600" y="90" width="200" height="93.6"/></clipPath></defs>
<g clip-path="url(#mclip)" fill="none" stroke="#3b5e1f" stroke-width="4.2" stroke-linejoin="round"><path d="M1618,189.5 L1681.3,110.7 L1744,189.5"/><path d="M1652.8,148.2 L1671.5,137.5 L1681.5,145.5 L1691.5,137.5 L1710.3,149.5"/><path d="M1723,152.9 L1736.3,136.8 L1778.5,189.5"/></g>
<path d="M1700.7,100 C1701.83,101.89 1705.2,103.83 1705.2,106.3 A4.5,4.5 0 0 1 1696.2,106.3 C1696.2,103.83 1699.58,101.89 1700.7,100 Z" fill="#4a73c8"/>
<path d="M1711.7,100 C1712.83,101.89 1716.2,103.83 1716.2,106.3 A4.5,4.5 0 0 1 1707.2,106.3 C1707.2,103.83 1710.58,101.89 1711.7,100 Z" fill="#4a73c8"/>
<path d="M1723.1,100.3 C1724.22,102.19 1727.6,104.12 1727.6,106.6 A4.5,4.5 0 0 1 1718.6,106.6 C1718.6,104.12 1721.97,102.19 1723.1,100.3 Z" fill="#4a73c8"/>
<path d="M1736.7,99.8 C1737.83,101.69 1741.2,103.62 1741.2,106.1 A4.5,4.5 0 0 1 1732.2,106.1 C1732.2,103.62 1735.58,101.69 1736.7,99.8 Z" fill="#4a73c8"/>
<path d="M1748.1,100 C1749.22,101.89 1752.6,103.83 1752.6,106.3 A4.5,4.5 0 0 1 1743.6,106.3 C1743.6,103.83 1746.97,101.89 1748.1,100 Z" fill="#4a73c8"/>
<path d="M1759.2,100.3 C1760.33,102.19 1763.7,104.12 1763.7,106.6 A4.5,4.5 0 0 1 1754.7,106.6 C1754.7,104.12 1758.08,102.19 1759.2,100.3 Z" fill="#4a73c8"/>
<path d="M1703.1,115.3 L1709.5,125.6 M1712.4,115.3 L1718.8,125.6 M1723.5,115.3 L1729.9,125.6 M1735.8,115.3 L1742.2,125.6 M1746.9,115.3 L1753.3,125.6 M1757.8,115.3 L1764.2,125.6 M1711.7,130.5 L1724.3,151.3 M1721.1,130.5 L1733.7,151.3 M1732.5,130.5 L1745.1,151.3 M1744.9,130.5 L1757.5,151.3 M1755.8,130.5 L1768.4,151.3 M1766.9,130.5 L1779.5,151.3" stroke="#4a73c8" stroke-width="2.1" stroke-linecap="round" fill="none"/>
<line x1="1272.8" y1="199.3" x2="1403.9" y2="199.3" stroke="#000" stroke-width="1.7"/><polygon points="1264.4,199.3 1273.8,194.95 1273.8,203.65" fill="#000"/><polygon points="1412.3,199.3 1402.9,194.95 1402.9,203.65" fill="#000"/>
<line x1="1503.2" y1="199.3" x2="1568" y2="199.3" stroke="#000" stroke-width="1.7"/><polygon points="1494.8,199.3 1504.2,194.95 1504.2,203.65" fill="#000"/><polygon points="1576.4,199.3 1567,194.95 1567,203.65" fill="#000"/>
<line x1="1674.4" y1="198.6" x2="1794.2" y2="198.6" stroke="#000" stroke-width="1.7"/><polygon points="1666,198.6 1675.4,194.25 1675.4,202.95" fill="#000"/><polygon points="1802.6,198.6 1793.2,194.25 1793.2,202.95" fill="#000"/>
<line x1="1515.8" y1="268.2" x2="1515.8" y2="338.9" stroke="#000" stroke-width="4.8" stroke-dasharray="4.8 4.8"/><polygon points="1515.8,352.9 1508.65,338.9 1522.95,338.9" fill="#000"/>
<line x1="1265.33" y1="622.88" x2="1344.5" y2="567.42" stroke="#000" stroke-width="4.8" stroke-dasharray="4.8 4.8"/><polygon points="1355.8,559.5 1348.43,573.03 1340.57,561.81" fill="#000"/>
<line x1="1415.68" y1="674.21" x2="1453.62" y2="616.53" stroke="#000" stroke-width="4.8" stroke-dasharray="4.8 4.8"/><polygon points="1461.2,605 1459.34,620.29 1447.89,612.77" fill="#000"/>
<line x1="1650.18" y1="672.09" x2="1602.03" y2="610.85" stroke="#000" stroke-width="4.8" stroke-dasharray="4.8 4.8"/><polygon points="1593.5,600 1607.41,606.61 1596.65,615.08" fill="#000"/>
<line x1="1776" y1="596.76" x2="1684.65" y2="557.01" stroke="#000" stroke-width="4.8" stroke-dasharray="4.8 4.8"/><polygon points="1672,551.5 1687.39,550.73 1681.92,563.29" fill="#000"/>
<polygon points="1219.8,462.5 1302.4,463.2 1302.4,453.7 1330.8,468 1302.4,482 1302.4,472.5 1219.8,471.6" fill="#000"/>
<polygon points="1691.5,464 1774.2,464.6 1774.2,455.1 1802.5,469.4 1774.2,483.4 1774.2,473.9 1691.5,473.2" fill="#000"/>
<g fill="#000" stroke="#000" stroke-width="3" stroke-linejoin="round"><path d="M1119.5,464.4 L1148.3,522.5 Q1150.4,527 1145.5,527 L1094.5,527 Q1089.6,527 1091.7,522.5 Z"/><path d="M1105.7,394.7 L1113.6,401.7 L1197,401.7 L1201.6,405 L1201.6,479.8 L1210.2,487.4 A73,73 0 0 1 1105.7,394.7 Z"/><circle cx="1196.9" cy="404.8" r="6.6"/></g>
<g fill="#441c57" stroke="#441c57" stroke-width="0"><path d="M1119.5,464.4 L1148.3,522.5 Q1150.4,527 1145.5,527 L1094.5,527 Q1089.6,527 1091.7,522.5 Z"/><path d="M1105.7,394.7 L1113.6,401.7 L1197,401.7 L1201.6,405 L1201.6,479.8 L1210.2,487.4 A73,73 0 0 1 1105.7,394.7 Z"/><circle cx="1196.9" cy="404.8" r="6.6"/></g>
<g fill="#fff" stroke="#000" stroke-width="1.3" stroke-linejoin="miter"><polygon points="1121.3,408.7 1186,408.7 1155.6,437.6"/><polygon points="1192.3,415.7 1192.3,470.3 1161.1,443"/><polygon points="1119.8,480.6 1113.2,494.7 1119.8,500.8 1126.3,494.7"/><polygon points="1109.3,500.8 1114,505.9 1101.3,518.2"/><polygon points="1130.6,500.8 1125.9,505.9 1138.6,518.2"/><polygon points="1119.8,511.3 1107.4,521.1 1132.1,521.1"/></g>
<g fill="#000" stroke="#000" stroke-width="3.8"><circle cx="1844" cy="466" r="23"/><circle cx="1878.5" cy="441" r="27"/><circle cx="1917.5" cy="448.5" r="20.5"/><circle cx="1938" cy="469.5" r="19.5"/><rect x="1844" y="450" width="94" height="39"/></g>
<g fill="#3b5b9c"><circle cx="1844" cy="466" r="23"/><circle cx="1878.5" cy="441" r="27"/><circle cx="1917.5" cy="448.5" r="20.5"/><circle cx="1938" cy="469.5" r="19.5"/><rect x="1844" y="450" width="94" height="39"/></g>
<g fill="#3b5b9c" stroke="#000" stroke-width="1.9"><path d="M1856,498 L1847.73,513.34 A9.4,9.4 0 1 0 1864.27,513.34 Z"/><path d="M1890.3,498 L1878.79,519.96 A13,13 0 1 0 1901.81,519.96 Z"/><path d="M1924.6,498 L1916.33,513.34 A9.4,9.4 0 1 0 1932.87,513.34 Z"/></g>
<g fill="#172764" stroke="#172764" stroke-width="3.8"><circle cx="1178.6" cy="684.4" r="13.5"/><circle cx="1198" cy="672.5" r="16.9"/><circle cx="1220.5" cy="677" r="12.5"/><circle cx="1234.4" cy="688.4" r="9.5"/><rect x="1178.6" y="678" width="55.8" height="19.9"/></g>
<g fill="#fff"><circle cx="1178.6" cy="684.4" r="13.5"/><circle cx="1198" cy="672.5" r="16.9"/><circle cx="1220.5" cy="677" r="12.5"/><circle cx="1234.4" cy="688.4" r="9.5"/><rect x="1178.6" y="678" width="55.8" height="19.9"/></g>
<g fill="none" stroke="#172764" stroke-width="1.9" stroke-linejoin="miter"><path d="M1183,706.2 L1178.7,712.96 A5.1,5.1 0 1 0 1187.3,712.96 Z"/><path d="M1225.4,706.2 L1221.1,712.96 A5.1,5.1 0 1 0 1229.7,712.96 Z"/><path d="M1204.7,705.3 L1200,720.7 L1209.5,720.7 L1204.2,733.4"/></g>
<g fill="none" stroke="#000" stroke-width="1.7"><path d="M1885.1,687.2 L1885.1,646.6 A8.35,8.35 0 0 1 1901.8,646.6 L1901.8,687.2 A16.7,16.7 0 1 1 1885.1,687.2 Z"/><circle cx="1893.3" cy="701.6" r="7.2"/><line x1="1893.2" y1="668.1" x2="1893.2" y2="694.4"/></g>
<g transform="translate(1416.1,765) rotate(43)"><g fill="#222" stroke="#222" stroke-width="2.4" stroke-linejoin="round"><rect x="-11.7" y="-21.6" width="23.4" height="43.2" rx="3"/><rect x="-49.7" y="-17.8" width="31" height="38.6" rx="4"/><rect x="19.9" y="-18.6" width="31" height="38.6" rx="4"/><rect x="-20" y="-2.8" width="9" height="5.6"/><rect x="11" y="-2.8" width="10" height="5.6"/><rect x="-1.5" y="-29" width="8.5" height="8"/><rect x="-3" y="20" width="6" height="12"/><g transform="rotate(-43) translate(-1416.1,-765)"><path d="M1368.3,780 A22.9,22.9 0 0 1 1400.1,808.8 L1396,805.4 L1372,805.4 L1372,783.5 Z"/><circle cx="1373" cy="804.8" r="4.6"/></g></g><g fill="#736e6f"><rect x="-11.7" y="-21.6" width="23.4" height="43.2" rx="3"/><rect x="-49.7" y="-17.8" width="31" height="38.6" rx="4"/><rect x="19.9" y="-18.6" width="31" height="38.6" rx="4"/><rect x="-20" y="-2.8" width="9" height="5.6"/><rect x="11" y="-2.8" width="10" height="5.6"/><rect x="-1.5" y="-29" width="8.5" height="8"/><rect x="-3" y="20" width="6" height="12"/><g transform="rotate(-43) translate(-1416.1,-765)"><path d="M1368.3,780 A22.9,22.9 0 0 1 1400.1,808.8 L1396,805.4 L1372,805.4 L1372,783.5 Z"/><circle cx="1373" cy="804.8" r="4.6"/></g></g><g fill="#fff" stroke="#222" stroke-width="0.9"><rect x="-46.1" y="-15.2" width="4.8" height="14" rx="0.8"/><rect x="-46.1" y="3.6" width="4.8" height="14" rx="0.8"/><rect x="-36.6" y="-15.2" width="4.8" height="14" rx="0.8"/><rect x="-36.6" y="3.6" width="4.8" height="14" rx="0.8"/><rect x="-27.1" y="-15.2" width="4.8" height="14" rx="0.8"/><rect x="-27.1" y="3.6" width="4.8" height="14" rx="0.8"/><rect x="23.5" y="-15.2" width="4.8" height="14" rx="0.8"/><rect x="23.5" y="3.6" width="4.8" height="14" rx="0.8"/><rect x="33" y="-15.2" width="4.8" height="14" rx="0.8"/><rect x="33" y="3.6" width="4.8" height="14" rx="0.8"/><rect x="42.5" y="-15.2" width="4.8" height="14" rx="0.8"/><rect x="42.5" y="3.6" width="4.8" height="14" rx="0.8"/></g></g>
<g fill="#fff" stroke="#222" stroke-width="1"><polygon points="1376.6,787.6 1381.8,793.3 1376.6,798.4"/><polygon points="1381.2,801.2 1386,796.4 1391.2,801.2"/></g>
<g stroke="#1a1a1a" stroke-width="1.1" fill="#79b94b"><path d="M1634,710.4 L1646.9,710.4 L1646.9,721.4 L1722.6,721.4 A7,7 0 0 1 1729.6,728.4 L1729.6,796.5 A7,7 0 0 1 1722.6,803.5 L1710,803.5 L1710,791.2 L1634,791.2 A7.3,7.3 0 0 1 1626.7,783.9 L1626.7,717.7 A7.3,7.3 0 0 1 1634,710.4 Z"/></g>
<g stroke="#1a1a1a" stroke-width="1.1" fill="#fff"><rect x="1634.1" y="717.1" width="6.1" height="57" rx="1.2"/><path d="M1646.9,728.2 L1722.9,728.2 L1722.9,785.1 L1636.5,785.1 A2.6,2.6 0 0 1 1636.5,780 L1646.9,780 Z"/><rect x="1716.7" y="792.4" width="6.2" height="4.3" rx="1"/></g>
<rect x="1652.9" y="733.5" width="64.3" height="46" fill="#79b94b" stroke="#1a1a1a" stroke-width="1.1"/>
<rect x="1656.1" y="736.6" width="57.9" height="39.8" fill="#fff" stroke="#1a1a1a" stroke-width="0.9"/>
<defs><clipPath id="mapclip"><rect x="1656.1" y="736.6" width="57.9" height="39.8"/></clipPath></defs>
<g clip-path="url(#mapclip)">
<path d="M1655.6,740.6 C1659,739.8 1662.5,738.5 1666.2,736.3 M1655.6,747 C1660,745.5 1665,744 1669.5,742 C1672,740.6 1673.6,738.6 1674.6,736.3 M1655.6,756.8 C1660,754 1664,752 1669,750.4 C1674,748.8 1677,746.5 1678.8,743.5 C1679.8,741.5 1680.4,739 1680.9,736.3 M1657.6,776.4 C1660,768 1664,762.5 1670,758.6 C1676,755 1680.5,752.5 1683.5,749 C1686.5,745 1688.5,741 1692,738.6 C1696,737 1705,737.2 1714.1,737.6 M1669.4,776.4 C1669,770 1671,764.5 1675.5,761 C1680,757.6 1684,755.5 1688.5,751 C1692,748 1697,746.6 1703,746 C1708,745.6 1711,745.6 1714.1,745.6 M1682.4,776.4 C1681,772 1680.8,766 1682.6,762" fill="none" stroke="#1a1a1a" stroke-width="3.6"/>
<path d="M1655.6,740.6 C1659,739.8 1662.5,738.5 1666.2,736.3 M1655.6,747 C1660,745.5 1665,744 1669.5,742 C1672,740.6 1673.6,738.6 1674.6,736.3 M1655.6,756.8 C1660,754 1664,752 1669,750.4 C1674,748.8 1677,746.5 1678.8,743.5 C1679.8,741.5 1680.4,739 1680.9,736.3 M1657.6,776.4 C1660,768 1664,762.5 1670,758.6 C1676,755 1680.5,752.5 1683.5,749 C1686.5,745 1688.5,741 1692,738.6 C1696,737 1705,737.2 1714.1,737.6 M1669.4,776.4 C1669,770 1671,764.5 1675.5,761 C1680,757.6 1684,755.5 1688.5,751 C1692,748 1697,746.6 1703,746 C1708,745.6 1711,745.6 1714.1,745.6 M1682.4,776.4 C1681,772 1680.8,766 1682.6,762" fill="none" stroke="#79b94b" stroke-width="1.8"/>
<ellipse cx="1698.6" cy="765.8" rx="15.4" ry="11.4" fill="none" stroke="#1a1a1a" stroke-width="3.6"/>
<ellipse cx="1698.6" cy="765.8" rx="15.4" ry="11.4" fill="none" stroke="#79b94b" stroke-width="1.8"/>
<ellipse cx="1698.6" cy="765.8" rx="10.3" ry="7.6" fill="none" stroke="#1a1a1a" stroke-width="3.6"/>
<ellipse cx="1698.6" cy="765.8" rx="10.3" ry="7.6" fill="none" stroke="#79b94b" stroke-width="1.8"/>
<ellipse cx="1698.6" cy="765.8" rx="5.4" ry="3.9" fill="none" stroke="#1a1a1a" stroke-width="3.6"/>
<ellipse cx="1698.6" cy="765.8" rx="5.4" ry="3.9" fill="none" stroke="#79b94b" stroke-width="1.8"/>
</g>
<path d="M1652.9,733.5 h64.3 v46 h-64.3 Z M1656.1,736.6 v39.8 h57.9 v-39.8 Z" fill="#79b94b" fill-rule="evenodd"/>
<rect x="1652.9" y="733.5" width="64.3" height="46" fill="none" stroke="#1a1a1a" stroke-width="1.1"/>
<rect x="1656.1" y="736.6" width="57.9" height="39.8" fill="none" stroke="#1a1a1a" stroke-width="0.7"/>
<text x="0.46" y="33.40" font-size="43" font-weight="700" textLength="29.52" lengthAdjust="spacingAndGlyphs" fill="#000">A</text>
<text x="692.08" y="39.80" font-size="28" font-weight="700" textLength="184.10" lengthAdjust="spacingAndGlyphs" fill="#000">a- Persistence</text>
<text x="690.78" y="74.00" font-size="28" font-weight="700" textLength="187.98" lengthAdjust="spacingAndGlyphs" fill="#000">b- Nowcasting</text>
<text x="691.64" y="108.80" font-size="28" font-weight="700" textLength="242.58" lengthAdjust="spacingAndGlyphs" fill="#000">c- Mesoscale NWP</text>
<text x="691.65" y="142.10" font-size="28" font-weight="700" textLength="296.36" lengthAdjust="spacingAndGlyphs" fill="#000">d- Synoptic Scale NWP</text>
<text x="691.65" y="176.70" font-size="28" font-weight="700" textLength="259.01" lengthAdjust="spacingAndGlyphs" fill="#000">e- Merged Forecast*</text>
<text x="692.08" y="211.30" font-size="28" font-weight="700" textLength="301.95" lengthAdjust="spacingAndGlyphs" fill="#000">f- Limit of Predictability</text>
<text x="54.03" y="225.20" font-size="27.9" font-weight="700" textLength="10.44" lengthAdjust="spacingAndGlyphs" fill="#000" stroke="#000" stroke-width="1.00" stroke-linejoin="round">1</text>
<text x="61.10" y="712.10" font-size="27.3" font-weight="700" textLength="16.07" lengthAdjust="spacingAndGlyphs" fill="#000">0</text>
<text x="87.20" y="745.50" font-size="27.3" font-weight="700" textLength="16.07" lengthAdjust="spacingAndGlyphs" fill="#000">0</text>
<text x="426.95" y="750.70" font-size="27.5" font-weight="700" textLength="31.19" lengthAdjust="spacingAndGlyphs" fill="#000">10</text>
<text x="769.86" y="748.60" font-size="27.5" font-weight="700" textLength="46.58" lengthAdjust="spacingAndGlyphs" fill="#000">100</text>
<text x="192.70" y="613.20" font-size="27" font-weight="700" textLength="14.24" lengthAdjust="spacingAndGlyphs" fill="#000">a</text>
<text x="260.94" y="504.40" font-size="26.7" font-weight="700" textLength="17.18" lengthAdjust="spacingAndGlyphs" fill="#000">b</text>
<text x="396.96" y="497.60" font-size="26.8" font-weight="700" textLength="14.90" lengthAdjust="spacingAndGlyphs" fill="#000">c</text>
<text x="683.31" y="634.80" font-size="26.7" font-weight="700" textLength="17.41" lengthAdjust="spacingAndGlyphs" fill="#000">d</text>
<text x="573.08" y="503.50" font-size="27" font-weight="700" textLength="16.35" lengthAdjust="spacingAndGlyphs" fill="#000">e</text>
<text x="725.28" y="504.20" font-size="26.7" font-weight="700" textLength="8.93" lengthAdjust="spacingAndGlyphs" fill="#000">f</text>
<text x="334.84" y="786.50" font-size="29.5" font-weight="700" textLength="335.93" lengthAdjust="spacingAndGlyphs" fill="#000">Forecast Lead Time (hr)</text>
<text x="106.62" y="837.90" font-size="24" font-weight="400" textLength="835.36" lengthAdjust="spacingAndGlyphs" fill="#000">* = Nowcasting, NWPs, Physics of Precipitation, Satellite Information, Terrain</text>
<text x="466.95" y="868.90" font-size="24" font-weight="400" textLength="113.63" lengthAdjust="spacingAndGlyphs" fill="#000">Properties</text>
<text transform="translate(66.20,594.42) rotate(-90)" x="0" y="0" font-size="30" font-weight="700" textLength="221.63" lengthAdjust="spacingAndGlyphs" fill="#000">Prediction Skill</text>
<text x="1047.70" y="33.90" font-size="42" font-weight="700" textLength="23.87" lengthAdjust="spacingAndGlyphs" fill="#000" stroke="#000" stroke-width="0.74" stroke-linejoin="round">B</text>
<text x="1329.81" y="62.80" font-size="28" font-weight="700" textLength="306.60" lengthAdjust="spacingAndGlyphs" fill="#000">Physics of Precipitation</text>
<text x="1289.63" y="220.80" font-size="20.5" font-weight="400" textLength="86.99" lengthAdjust="spacingAndGlyphs" fill="#000">~100 Km</text>
<text x="1225.12" y="251.80" font-size="24.4" font-weight="700" textLength="174.55" lengthAdjust="spacingAndGlyphs" fill="#000">Stratiform Rain</text>
<text x="1500.79" y="220.90" font-size="20.8" font-weight="400" textLength="84.39" lengthAdjust="spacingAndGlyphs" fill="#000">1 ~ 2 Km</text>
<text x="1431.25" y="251.20" font-size="24.3" font-weight="700" textLength="186.91" lengthAdjust="spacingAndGlyphs" fill="#000">Convective Rain</text>
<text x="1690.48" y="220.30" font-size="20.8" font-weight="400" textLength="84.91" lengthAdjust="spacingAndGlyphs" fill="#000">1 ~ 4 Km</text>
<text x="1648.26" y="247.00" font-size="24" font-weight="700" textLength="185.38" lengthAdjust="spacingAndGlyphs" fill="#000">Orographic Rain</text>
<text x="1044.00" y="351.20" font-size="30.6" font-weight="700" textLength="253.04" lengthAdjust="spacingAndGlyphs" fill="#000">Remotely Sensed</text>
<text x="1077.08" y="388.60" font-size="30" font-weight="700" textLength="186.41" lengthAdjust="spacingAndGlyphs" fill="#000">Precipitation</text>
<text x="1103.11" y="555.75" font-size="30.5" font-weight="700" textLength="85.82" lengthAdjust="spacingAndGlyphs" fill="#000">Radar</text>
<text x="1354.20" y="459.60" font-size="48" font-weight="700" textLength="308.83" lengthAdjust="spacingAndGlyphs" fill="#000">Generative AI</text>
<text x="1437.53" y="520.60" font-size="48.4" font-weight="700" textLength="146.46" lengthAdjust="spacingAndGlyphs" fill="#000">Model</text>
<text x="1832.61" y="354.50" font-size="30.2" font-weight="700" textLength="126.04" lengthAdjust="spacingAndGlyphs" fill="#000">Forecast</text>
<text x="1802.58" y="392.20" font-size="30" font-weight="700" textLength="186.41" lengthAdjust="spacingAndGlyphs" fill="#000">Precipitation</text>
<text x="1132.36" y="651.20" font-size="24" font-weight="700" textLength="172.17" lengthAdjust="spacingAndGlyphs" fill="#000">Ground Sensor</text>
<text x="1142.53" y="759.75" font-size="24.5" font-weight="700" textLength="130.35" lengthAdjust="spacingAndGlyphs" fill="#000">Rain Gauge</text>
<text x="1357.71" y="705.00" font-size="24" font-weight="700" textLength="110.51" lengthAdjust="spacingAndGlyphs" fill="#000">Satellites</text>
<text x="1339.03" y="843.40" font-size="24" font-weight="700" textLength="164.71" lengthAdjust="spacingAndGlyphs" fill="#000">Geostationary</text>
<text x="1588.80" y="833.90" font-size="24" font-weight="700" textLength="204.67" lengthAdjust="spacingAndGlyphs" fill="#000">Terrain Properties</text>
<text x="1628.64" y="861.80" font-size="20.6" font-weight="700" textLength="124.80" lengthAdjust="spacingAndGlyphs" fill="#000">(DEM, LULC)</text>
<text x="1786.22" y="625.85" font-size="24" font-weight="700" textLength="212.58" lengthAdjust="spacingAndGlyphs" fill="#000">Ancillary Datasets</text>
<text x="1846.47" y="746.80" font-size="24.3" font-weight="700" textLength="124.15" lengthAdjust="spacingAndGlyphs" fill="#000">NWP State</text>
<text x="1854.10" y="777.60" font-size="24.3" font-weight="700" textLength="108.20" lengthAdjust="spacingAndGlyphs" fill="#000">Variables</text>
</svg>
</body></html>
